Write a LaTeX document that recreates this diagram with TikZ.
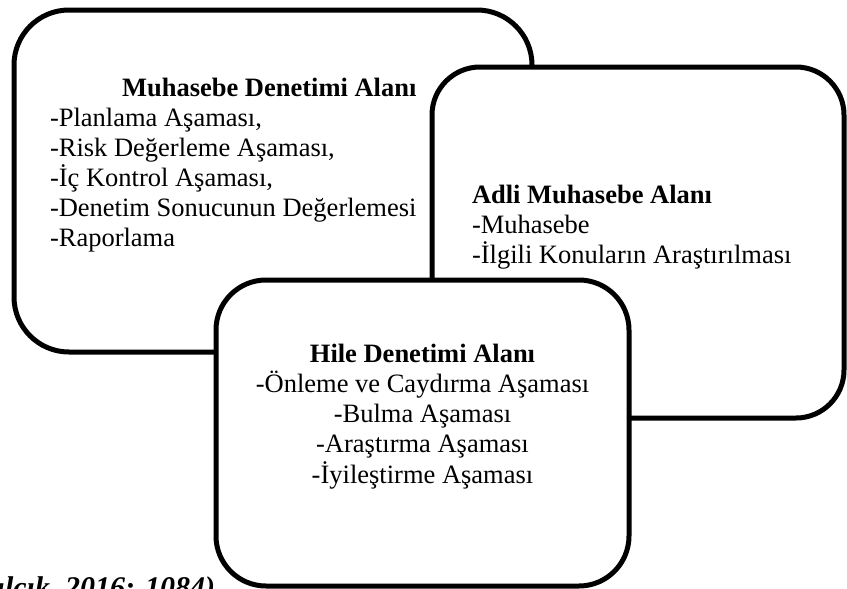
\documentclass[tikz,border=0pt]{standalone}
\usepackage{fontspec}
\setmainfont{Liberation Serif}
\begin{document}
\begin{tikzpicture}[x=1pt,y=-1pt,
  areabox/.style={draw=black, line width=5pt, fill=white, rectangle, inner sep=0pt, outer sep=0pt},
  txt/.style={inner sep=0pt, outer sep=0pt, font=\fontsize{26.5}{30}\selectfont},
  srctxt/.style={inner sep=0pt, outer sep=0pt, font=\fontsize{30}{34}\selectfont\bfseries\itshape}]
\useasboundingbox (0,0) rectangle (847,589);
\clip (0,0) rectangle (847,589);
\node[srctxt, anchor=base east] (src) at (215,597) {(Kılçık, 2016: 1084)};
% Box 1
\node[areabox, rounded corners=55pt, minimum width=518pt, minimum height=342pt] (b1) at (273,181) {};
\node[txt, anchor=base west] (t1) at (50,96) {\begin{tabular}[t]{@{}l@{}}
\multicolumn{1}{@{}r@{}}{\textbf{Muhasebe Denetimi Alanı}}\\
-Planlama Aşaması,\\
-Risk Değerleme Aşaması,\\
-İç Kontrol Aşaması,\\
-Denetim Sonucunun Değerlemesi\\
-Raporlama
\end{tabular}};
% Box 2
\node[areabox, rounded corners=48pt, minimum width=412pt, minimum height=351pt] (b2) at (638,242.5) {};
\node[txt, anchor=base west] (t2) at (472,203) {\begin{tabular}[t]{@{}l@{}}
\textbf{Adli Muhasebe Alanı}\\
-Muhasebe\\
-İlgili Konuların Araştırılması
\end{tabular}};
% Box 3
\node[areabox, rounded corners=50pt, minimum width=413pt, minimum height=306pt] (b3) at (422.5,433) {};
\node[txt, anchor=base] (t3) at (422.5,362) {\begin{tabular}[t]{@{}c@{}}
\textbf{Hile Denetimi Alanı}\\
-Önleme ve Caydırma Aşaması\\
-Bulma Aşaması\\
-Araştırma Aşaması\\
-İyileştirme Aşaması
\end{tabular}};
\end{tikzpicture}
\end{document}
